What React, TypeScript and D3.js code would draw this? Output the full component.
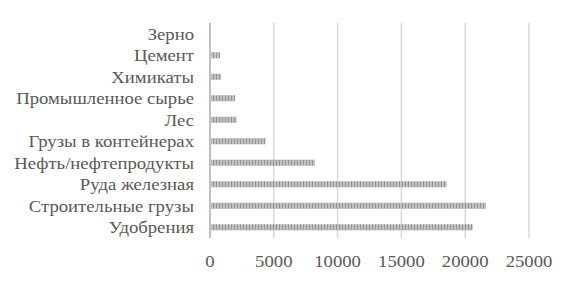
import React from "react";
import * as d3 from "d3";

const categories = [
  "Зерно",
  "Цемент",
  "Химикаты",
  "Промышленное сырье",
  "Лес",
  "Грузы в контейнерах",
  "Нефть/нефтепродукты",
  "Руда железная",
  "Строительные грузы",
  "Удобрения",
];
const values = [0, 780, 860, 1960, 2090, 4360, 8230, 18550, 21630, 20590];
const xTicks = [0, 5000, 10000, 15000, 20000, 25000];

const W = 575;
const H = 284;
const M = { left: 210, right: 46, top: 23, bottom: 46 };
const SX = 1.1;
const K = 0.5; // draw text at 2x size then scale down

export default function App() {
  const x = d3.scaleLinear().domain([0, 25000]).range([M.left, 529]);
  const y = d3
    .scaleBand<string>()
    .domain(categories)
    .range([M.top, H - M.bottom])
    .paddingInner(0.72)
    .paddingOuter(0.36);
  const font = "Liberation Serif, Tinos, serif";
  return (
    <svg
      width={W}
      height={H}
      style={{ position: "absolute", left: 0, top: 0, background: "#fff" }}
    >
      <defs>
        <pattern id="stripes" width="3" height="3" patternUnits="userSpaceOnUse">
          <rect width="3" height="3" fill="#c4c4c4" />
          <rect width="1" height="3" fill="#8f8f8f" />
          <rect x="0" y="1" width="3" height="1" fill="#b0b0b0" opacity="0.5" />
        </pattern>
      </defs>
      {xTicks.slice(1).map((t) => (
        <line
          key={t}
          x1={x(t)}
          x2={x(t)}
          y1={M.top}
          y2={H - M.bottom}
          stroke="#d9d9d9"
          strokeWidth={1.5}
        />
      ))}
      {categories.map((c, i) => (
        <rect
          key={c}
          x={x(0)}
          y={y(c)!}
          width={Math.max(0, x(values[i]) - x(0))}
          height={y.bandwidth()}
          fill="url(#stripes)"
        />
      ))}
      <line
        x1={x(0)}
        x2={x(0)}
        y1={M.top}
        y2={H - M.bottom}
        stroke="#bfbfbf"
        strokeWidth={2}
      />
      {categories.map((c) => (
        <g key={c} transform={`translate(194,${y(c)! + y.bandwidth() / 2}) scale(${SX * K},${K})`}>
          <text
            x={0}
            y={0}
            dy="0.36em"
            textAnchor="end"
            style={{ fontFamily: font, fontSize: `${17 / K}px` }}
            fill="#595959"
          >
            {c}
          </text>
        </g>
      ))}
      {xTicks.map((t) => (
        <g key={t} transform={`translate(${x(t)},267) scale(${SX * K},${K})`}>
          <text
            x={0}
            y={0}
            textAnchor="middle"
            style={{ fontFamily: font, fontSize: `${17 / K}px` }}
            fill="#595959"
          >
            {t}
          </text>
        </g>
      ))}
    </svg>
  );
}
